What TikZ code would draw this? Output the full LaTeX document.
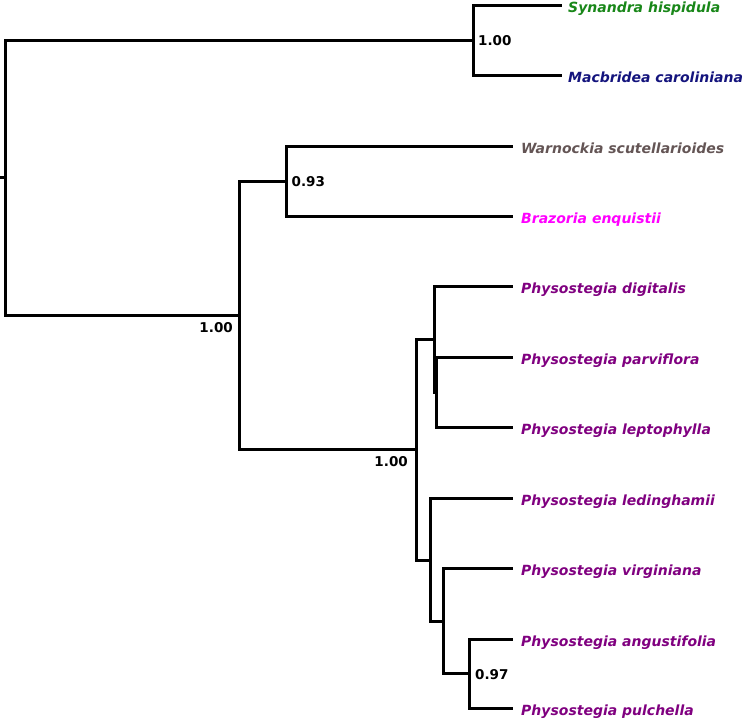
\documentclass[tikz,border=0pt]{standalone}
\usepackage{fontspec}
\setmainfont{DejaVu Sans}
\definecolor{sync}{RGB}{25,135,25}
\definecolor{macc}{RGB}{20,20,125}
\definecolor{warc}{RGB}{100,85,85}
\definecolor{brac}{RGB}{255,0,255}
\definecolor{phyc}{RGB}{128,0,128}
\begin{document}
\begin{tikzpicture}[x=1pt,y=-1pt,
  branch/.style={line width=3pt,black},
  leaf/.style={anchor=west,inner xsep=8pt,inner ysep=0pt,text height=14pt,text depth=1pt,
    font=\fontsize{14}{16}\selectfont\bfseries\itshape},
  supp/.style={inner sep=0pt,font=\fontsize{13.5}{16}\selectfont\bfseries}]
\useasboundingbox[fill=white] (0,0) rectangle (746,718);
% internal nodes
\coordinate (stub) at (0,177.5);
\coordinate (root) at (5.5,177.5);
\coordinate (A) at (473.5,40.5);
\coordinate (B) at (239.5,315.5);
\coordinate (C) at (286.5,181.5);
\coordinate (D) at (416.5,449.5);
\coordinate (E) at (434.5,339.5);
\coordinate (E2) at (436.5,392.5);
\coordinate (F) at (430.5,560.5);
\coordinate (G) at (443.5,621.5);
\coordinate (H) at (469.5,673.5);
% leaves
\node[leaf,text=sync,inner xsep=6pt] (syn) at (562,5.5) {Synandra hispidula};
\node[leaf,text=macc,inner xsep=6pt] (mac) at (562,75.5) {Macbridea caroliniana};
\node[leaf,text=warc] (war) at (513,146.5) {Warnockia scutellarioides};
\node[leaf,text=brac] (bra) at (513,216.5) {Brazoria enquistii};
\node[leaf,text=phyc] (dig) at (513,286.5) {Physostegia digitalis};
\node[leaf,text=phyc] (par) at (513,357.5) {Physostegia parviflora};
\node[leaf,text=phyc] (lep) at (513,427.5) {Physostegia leptophylla};
\node[leaf,text=phyc] (led) at (513,498.5) {Physostegia ledinghamii};
\node[leaf,text=phyc] (vir) at (513,568.5) {Physostegia virginiana};
\node[leaf,text=phyc] (ang) at (513,639.5) {Physostegia angustifolia};
\node[leaf,text=phyc] (pul) at (513,708.5) {Physostegia pulchella};
% support values
\node[supp,anchor=west] (sA) at (478,40.5) {1.00};
\node[supp,anchor=east] (sB) at (233,328) {1.00};
\node[supp,anchor=west] (sC) at (291.5,182) {0.93};
\node[supp,anchor=east] (sD) at (408,462) {1.00};
\node[supp,anchor=west] (sH) at (475,675) {0.97};
% branches
\draw[branch] (stub) -- (root);
\draw[branch] (root) |- (A);
\draw[branch] (root) |- (B);
\draw[branch] (A) |- (syn.west);
\draw[branch] (A) |- (mac.west);
\draw[branch] (B) |- (C);
\draw[branch] (B) |- (D);
\draw[branch] (C) |- (war.west);
\draw[branch] (C) |- (bra.west);
\draw[branch] (D) |- (E);
\draw[branch] (D) |- (F);
\draw[branch] (E) |- (dig.west);
\draw[branch] (E) |- (E2);
\draw[branch] (E2) |- (par.west);
\draw[branch] (E2) |- (lep.west);
\draw[branch] (F) |- (led.west);
\draw[branch] (F) |- (G);
\draw[branch] (G) |- (vir.west);
\draw[branch] (G) |- (H);
\draw[branch] (H) |- (ang.west);
\draw[branch] (H) |- (pul.west);
\end{tikzpicture}
\end{document}
